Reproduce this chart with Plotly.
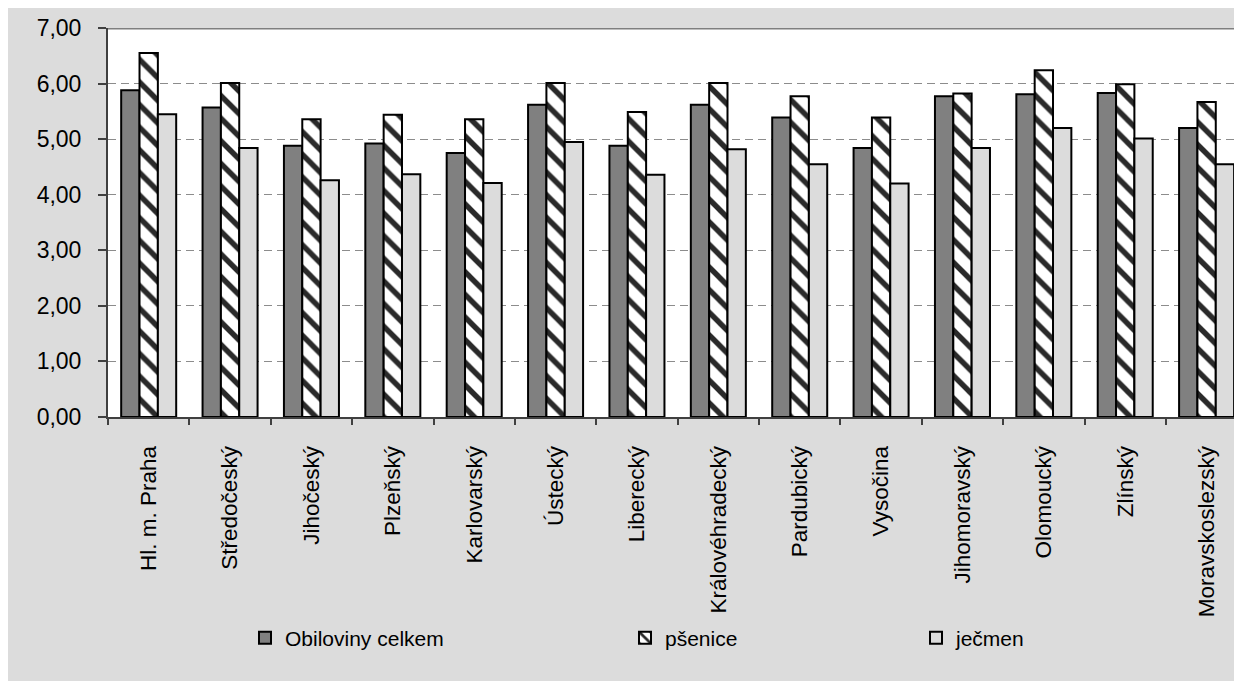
import plotly.graph_objects as go

categories = ["Hl. m. Praha", "Středočeský", "Jihočeský", "Plzeňský", "Karlovarský",
              "Ústecký", "Liberecký", "Královéhradecký", "Pardubický", "Vysočina",
              "Jihomoravský", "Olomoucký", "Zlínský", "Moravskoslezský"]
obiloviny = [5.88, 5.57, 4.88, 4.92, 4.75, 5.62, 4.88, 5.62, 5.39, 4.84, 5.77, 5.81, 5.83, 5.20]
psenice = [6.55, 6.01, 5.36, 5.44, 5.36, 6.01, 5.49, 6.01, 5.77, 5.39, 5.82, 6.24, 5.99, 5.67]
jecmen = [5.45, 4.84, 4.26, 4.37, 4.21, 4.95, 4.36, 4.82, 4.55, 4.20, 4.84, 5.20, 5.01, 4.55]
series_names = ["Obiloviny celkem", "pšenice", "ječmen"]
y_ticks = [0, 1, 2, 3, 4, 5, 6, 7]

# figure is drawn inside the page's 8px body margin
W, H = 1234, 673
ML, MR, MT, MB = 100, 0, 20, 264
PW, PH = W - ML - MR, H - MT - MB


def px_x(px):
    return (px - ML) / PW


def px_y(py):
    return (H - MB - py) / PH


FONT = "Liberation Sans, Arial, sans-serif"
line = dict(color="black", width=2)

fig = go.Figure()
fig.add_trace(go.Bar(x=categories, y=obiloviny, name=series_names[0],
                     marker=dict(color="#808080", line=line), legend="legend"))
fig.add_trace(go.Bar(x=categories, y=psenice, name=series_names[1],
                     marker=dict(color="white", line=line,
                                 pattern=dict(shape="\\", fgcolor="#2a2a2a", bgcolor="white",
                                              size=16, solidity=0.34, fillmode="replace")),
                     legend="legend2"))
fig.add_trace(go.Bar(x=categories, y=jecmen, name=series_names[2],
                     marker=dict(color="#DCDCDC", line=line), legend="legend3"))

leg_common = dict(orientation="h", yanchor="middle", xanchor="left", visible=True,
                  bgcolor="rgba(0,0,0,0)", font=dict(family=FONT, size=21, color="black"),
                  itemwidth=30, tracegroupgap=0)
leg_y = px_y(630)

fig.update_layout(
    width=W, height=H,
    margin=dict(l=ML, r=MR, t=MT, b=MB, autoexpand=False),
    paper_bgcolor="#DCDCDC", plot_bgcolor="white",
    separators=", ",
    showlegend=True,
    barmode="group", bargap=0.324, bargroupgap=0,
    font=dict(family=FONT, size=21, color="black"),
    legend=dict(x=px_x(237), y=leg_y, **leg_common),
    legend2=dict(x=px_x(617), y=leg_y, **leg_common),
    legend3=dict(x=px_x(908), y=leg_y, **leg_common),
    xaxis=dict(range=[-0.5, 13.435], tickangle=-90, ticks="outside", tickson="boundaries",
               ticklen=6, tickcolor="#404040", tickwidth=1.5, showline=True,
               linecolor="#404040", linewidth=2, showgrid=False,
               tickfont=dict(family=FONT, size=22.5, color="black"), ticklabelstandoff=18),
    yaxis=dict(range=[0, 7], tickvals=y_ticks, tickformat=".2f", ticks="outside",
               ticklen=8, tickcolor="#404040", tickwidth=1.5, showline=True,
               linecolor="#404040", linewidth=2, showgrid=True, gridcolor="#8c8c8c",
               gridwidth=1, griddash="8px,5px", zeroline=False,
               tickfont=dict(family=FONT, size=23, color="black"), ticklabelstandoff=12),
    shapes=[
        dict(type="line", xref="paper", yref="y", x0=0, x1=1, y0=7, y1=7,
             line=dict(color="#7f7f7f", width=3), layer="above"),
    ],
)

fig.write_html("out.html")
